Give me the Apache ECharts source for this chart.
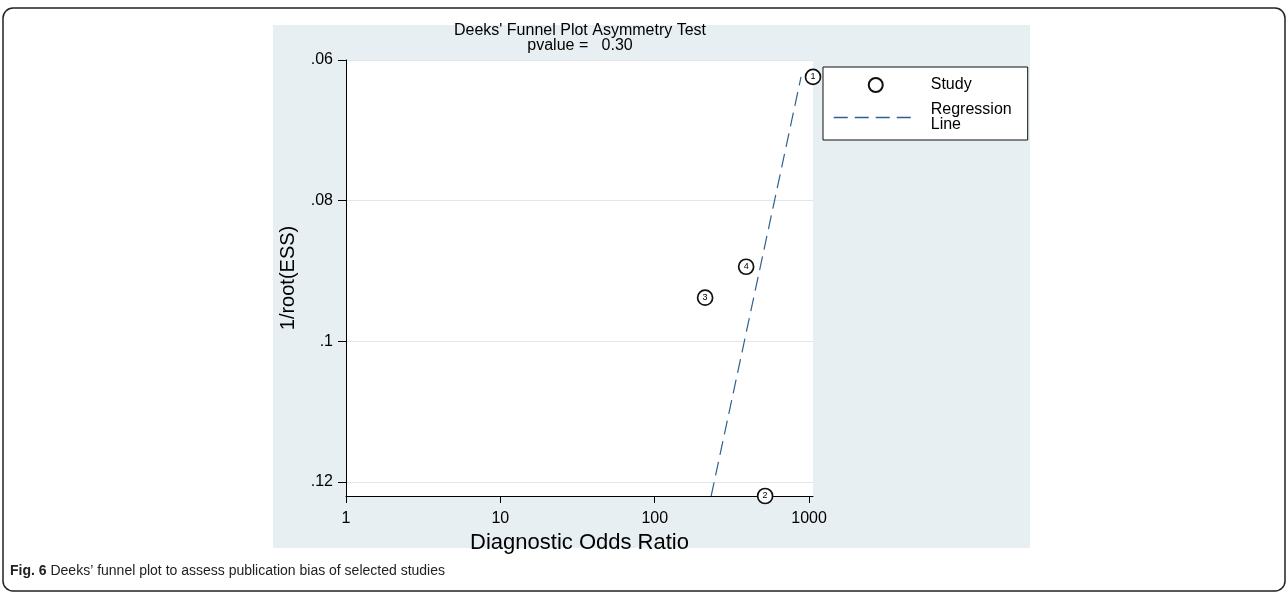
<!DOCTYPE html>
<html><head><meta charset="utf-8">
<script src="https://cdn.jsdelivr.net/npm/echarts@6/dist/echarts.min.js"></script>
<style>html,body{margin:0;padding:0;background:#fff}#c{width:1287px;height:592px}</style>
</head><body><div id="c"></div>
<script>
// ---- data ----
const studyIds = ['1', '2', '3', '4'];
const studyDOR = [1060, 519, 212, 391];                  // diagnostic odds ratio (x, log scale)
const studyInvRootESS = [0.0624, 0.122, 0.0938, 0.0894]; // 1/root(ESS) (y)
const regDOR = [232, 887];
const regInvRootESS = [0.122, 0.0624];
const xTicks = [1, 10, 100, 1000];
const yTicks = [0.06, 0.08, 0.10, 0.12];
const titleLine1 = "Deeks' Funnel Plot Asymmetry Test";
const titleLine2 = 'pvalue =   0.30';
const xName = 'Diagnostic Odds Ratio';
const yName = '1/root(ESS)';
const captionBold = 'Fig. 6';
const captionText = ' Deeks\u2019 funnel plot to assess publication bias of selected studies';

const FONT = '"Liberation Sans", Arial, Helvetica, sans-serif';
const REG_COLOR = '#30608f';
const chart = echarts.init(document.getElementById('c'), null, {renderer: 'canvas'});

const option = {
  animation: false,
  textStyle: {fontFamily: FONT},
  graphic: [
    {type: 'rect', z: -10, silent: true,
     shape: {x: 3, y: 8, width: 1282, height: 583, r: 10},
     style: {fill: 'none', stroke: '#222', lineWidth: 1.5}},
    {type: 'rect', z: -9, silent: true,
     shape: {x: 273, y: 25, width: 757, height: 523},
     style: {fill: '#e8eff2'}},
    {type: 'text', x: 580, y: 31, silent: true,
     style: {text: titleLine1, font: '16px ' + FONT, fill: '#000', align: 'center', verticalAlign: 'middle'}},
    {type: 'text', x: 580, y: 46, silent: true,
     style: {text: titleLine2, font: '16px ' + FONT, fill: '#000', align: 'center', verticalAlign: 'middle'}},
    {type: 'text', x: 10, y: 571, silent: true,
     style: {text: '{b|' + captionBold + '}' + captionText, font: '14px ' + FONT, fill: '#222',
             verticalAlign: 'middle',
             rich: {b: {fontWeight: 'bold', fontSize: 14, fontFamily: FONT, fill: '#222'}}}}
  ],
  grid: {left: 346, top: 60, right: 474, bottom: 96, show: true, backgroundColor: '#fff', borderWidth: 0},
  legend: {
    orient: 'vertical', left: 823, top: 67,
    padding: [10, 16, 7, 10], itemGap: 9,
    backgroundColor: '#fff', borderColor: '#111', borderWidth: 1, borderRadius: 0,
    itemWidth: 84, itemHeight: 14,
    textStyle: {fontSize: 16, color: '#000', fontFamily: FONT, lineHeight: 15, padding: [0, 0, 0, 8]},
    data: [
      {name: 'Study', icon: 'circle'},
      {name: 'Regression\nLine', icon: 'line',
       itemStyle: {color: REG_COLOR, borderColor: REG_COLOR, borderWidth: 1.5, borderType: [14, 7]}}
    ]
  },
  xAxis: {
    type: 'log', logBase: 10, min: 1, max: studyDOR[0],
    name: xName, nameLocation: 'middle', nameGap: 33,
    nameTextStyle: {fontSize: 22, color: '#000', fontFamily: FONT},
    axisLine: {show: true, lineStyle: {color: '#000', width: 1}},
    axisTick: {show: true, length: 7, lineStyle: {color: '#000', width: 1}, customValues: xTicks},
    axisLabel: {fontSize: 16, color: '#000', margin: 15, customValues: xTicks, fontFamily: FONT,
                formatter: v => String(Math.round(v))},
    splitLine: {show: false}, minorTick: {show: false}
  },
  yAxis: {
    type: 'value', inverse: true, min: 0.06, max: studyInvRootESS[1], interval: 0.02,
    name: yName, nameLocation: 'middle', nameGap: 48,
    nameTextStyle: {fontSize: 20, color: '#000', fontFamily: FONT},
    axisLine: {show: true, lineStyle: {color: '#000', width: 1}},
    axisTick: {show: true, length: 8, lineStyle: {color: '#000', width: 1}, customValues: yTicks},
    axisLabel: {fontSize: 16, color: '#000', margin: 13, customValues: yTicks, fontFamily: FONT,
                formatter: v => String(+(+v).toFixed(4)).replace(/^0\./, '.')},
    splitLine: {show: true, lineStyle: {color: '#dde8ed', width: 1}}
  },
  series: [
    {
      name: 'Study', type: 'scatter', z: 4, clip: false,
      symbol: 'circle', symbolSize: 15,
      itemStyle: {color: '#fff', borderColor: '#111', borderWidth: 1.7, opacity: 1},
      label: {show: true, position: 'inside', fontSize: 9, color: '#000', fontFamily: FONT,
              formatter: p => studyIds[p.dataIndex]},
      data: studyDOR.map((x, i) => [x, studyInvRootESS[i]])
    },
    {
      name: 'Regression\nLine', type: 'line', z: 3, clip: false,
      symbol: 'none', showSymbol: false,
      lineStyle: {color: REG_COLOR, width: 1.2, type: [14, 7]},
      itemStyle: {color: REG_COLOR},
      data: regDOR.map((x, i) => [x, regInvRootESS[i]])
    }
  ]
};
chart.setOption(option);
</script></body></html>
